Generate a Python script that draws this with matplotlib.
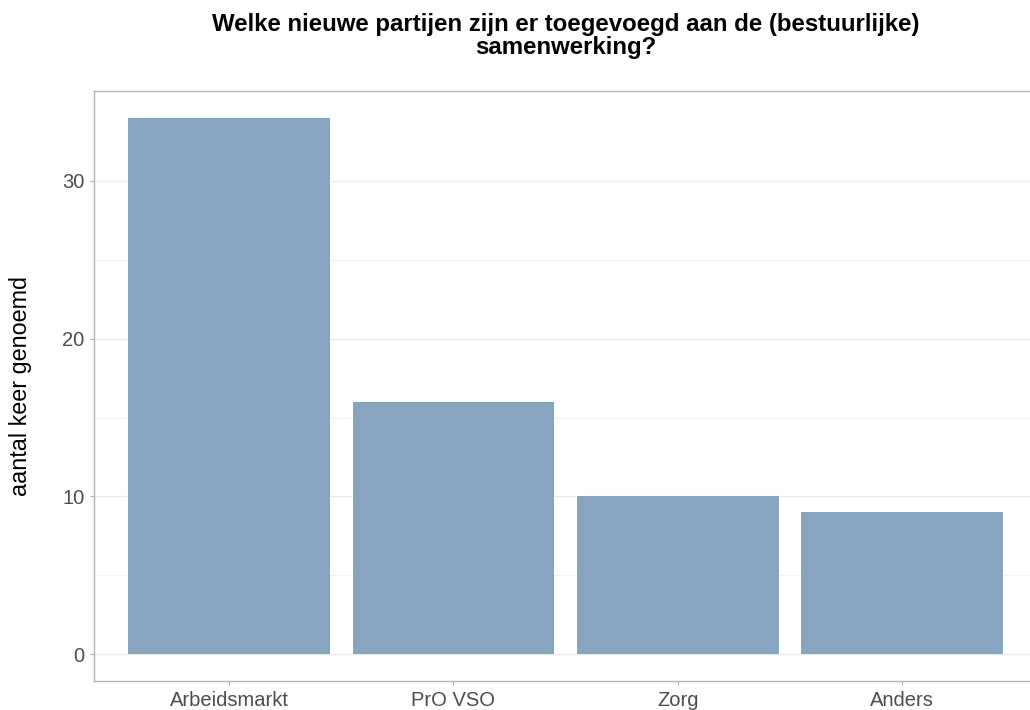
import matplotlib
matplotlib.use("Agg")
import matplotlib.pyplot as plt
import numpy as np

# data
categories = ["Arbeidsmarkt", "PrO VSO", "Zorg", "Anders"]
counts = [34, 16, 10, 9]

plt.rcParams['font.family'] = ['Liberation Sans', 'DejaVu Sans']

fig = plt.figure(figsize=(10.3, 7.1), dpi=100)
ax = fig.add_axes([0.0917, 0.0408, 0.915, 0.831])

x = np.arange(1, len(categories) + 1)
ax.bar(x, counts, width=0.9, color="#87A5C1", zorder=2)

ax.set_xlim(0.4, len(categories) + 0.6)
ymax = max(counts)
ax.set_ylim(-0.05 * ymax, 1.05 * ymax)

ax.set_yticks([0, 10, 20, 30])
ax.set_yticks([5, 15, 25], minor=True)
ax.set_xticks(x)
ax.set_xticklabels(categories)

ax.grid(axis='y', which='major', color='#ebebeb', linewidth=1.0, zorder=0)
ax.grid(axis='y', which='minor', color='#f3f3f3', linewidth=0.7, zorder=0)
ax.grid(axis='x', visible=False)

for s in ax.spines.values():
    s.set_color('#b3b3b3')
    s.set_linewidth(1.0)

ax.tick_params(axis='both', which='major', length=3, color='#b3b3b3',
               labelsize=14.5, labelcolor='#4d4d4d', pad=4)
ax.tick_params(axis='y', which='minor', length=0)

ax.set_ylabel("aantal keer genoemd", fontsize=16.8, labelpad=22, color='black')

fig.text(0.549, 0.982, "Welke nieuwe partijen zijn er toegevoegd aan de (bestuurlijke)\nsamenwerking?",
         ha='center', va='top', fontsize=17.3, fontweight='bold', linespacing=1.0)

fig.savefig("out.png", dpi=100)
